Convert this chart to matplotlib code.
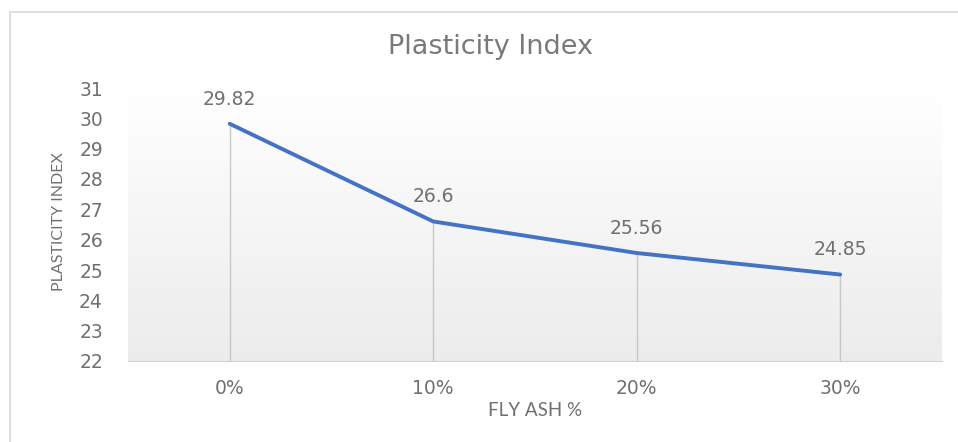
import numpy as np
import matplotlib.pyplot as plt
from matplotlib.colors import LinearSegmentedColormap
from matplotlib.patches import Rectangle

# ---- data ----
categories = ["0%", "10%", "20%", "30%"]
plasticity = [29.82, 26.6, 25.56, 24.85]
labels = ["29.82", "26.6", "25.56", "24.85"]
yticks = [22, 23, 24, 25, 26, 27, 28, 29, 30, 31]

GREY = "#707070"
BLUE = "#4472C4"
plt.rcParams["font.family"] = ["DejaVu Sans"]

fig = plt.figure(figsize=(9.58, 4.42), dpi=100)
ax = fig.add_axes([128/958, 1-361/442, (942-128)/958, (361-88)/442])

x = np.arange(len(categories))

# gradient background of the plot area
grad = np.linspace(0, 1, 256).reshape(-1, 1)
ax.imshow(grad, extent=[-0.5, 3.5, 22, 31], aspect="auto", origin="upper",
          cmap=LinearSegmentedColormap.from_list("g", ["#ffffff", "#ececec"]),
          zorder=0)

# drop lines
ax.vlines(x, 22, plasticity, color="#c8c8c8", lw=1.0, zorder=1)
ax.plot(x, plasticity, color=BLUE, lw=2.8, solid_capstyle="round", zorder=3)

for xi, yi, lab in zip(x, plasticity, labels):
    ax.annotate(lab, (xi, yi), xytext=(0, 11), textcoords="offset points",
                ha="center", va="bottom", fontsize=13.5, color=GREY)

ax.set_xlim(-0.5, 3.5)
ax.set_ylim(22, 31)
ax.set_xticks(x)
ax.set_xticklabels(categories)
ax.set_yticks(yticks)
ax.tick_params(axis="both", length=0, labelsize=13.5, labelcolor=GREY)
ax.tick_params(axis="x", pad=13)
ax.tick_params(axis="y", pad=18)
for s in ["top", "right", "left"]:
    ax.spines[s].set_visible(False)
ax.spines["bottom"].set_color("#d0d0d0")
ax.spines["bottom"].set_zorder(2)

fig.text(490/958, 1-47/442, "Plasticity Index", ha="center", va="center",
         fontsize=19.5, color="#7a7a7a")
fig.text(535/958, 1-411/442, "FLY ASH %", ha="center", va="center",
         fontsize=13.5, color=GREY, family=["Lato", "DejaVu Sans"])
fig.text(59/958, 1-222/442, "PLASTICITY INDEX", ha="center", va="center",
         rotation=90, fontsize=11.5, color=GREY, family=["Lato", "DejaVu Sans"])

# outer chart frame
fig.add_artist(Rectangle((10/958, -0.1), 1.2, 1.1 - 12/442, transform=fig.transFigure,
                         fill=False, edgecolor="#d9d9d9", lw=1.2))

fig.savefig("out.png", dpi=100)
